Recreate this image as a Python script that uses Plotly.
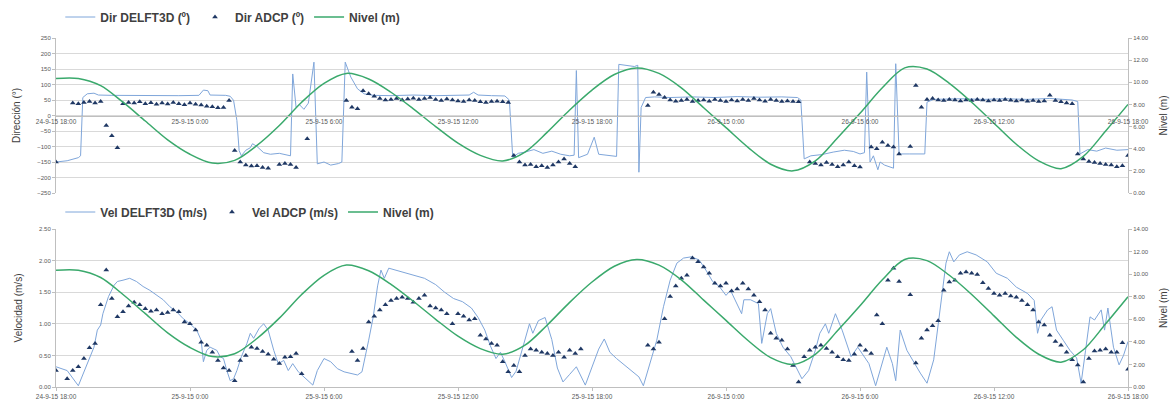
import numpy as np
import pandas as pd
import plotly.graph_objects as go

START = pd.Timestamp("2015-09-24 18:00")

# x-axis tick positions (hours from start) and their labels
tick_hours = [0, 6, 12, 18, 24, 30, 36, 42, 48]
tick_labels = ["24-9-15 18:00", "25-9-15 0:00", "25-9-15 6:00", "25-9-15 12:00",
               "25-9-15 18:00", "26-9-15 0:00", "26-9-15 6:00", "26-9-15 12:00",
               "26-9-15 18:00"]

# Tide level (m), hourly
nivel_h = list(range(49))
nivel = [10.35, 10.35, 9.7, 8.2, 6.5, 4.8, 3.5, 2.7, 2.95, 4.3, 6.1, 8.2, 9.9, 10.8,
         10.3, 9.1, 7.6, 6.0, 4.5, 3.4, 2.9, 3.7, 5.5, 7.5, 9.3, 10.7, 11.3, 10.8,
         9.5, 7.7, 5.9, 4.1, 2.6, 2.0, 2.9, 5.0, 7.2, 9.5, 11.3, 11.2, 9.9, 8.2,
         6.3, 4.4, 2.9, 2.2, 3.3, 5.6, 8.0]

# Direction DELFT3D (deg): (hour, value)
dir_delft_pts = [
    (0.0, -150), (0.5, -146), (1.0, -136), (1.1, -130), (1.2, 58), (1.4, 70), (1.7, 72),
    (1.9, 66), (2.5, 65), (3.5, 64), (4.5, 65), (5.5, 64), (6.4, 65), (6.6, 82), (6.8, 80),
    (6.9, 66), (7.6, 65), (7.8, 62), (7.95, 49), (8.1, -16), (8.2, -113), (8.3, -130),
    (8.5, -112), (8.7, -104), (8.8, -91), (9.0, -100), (9.3, -120), (9.6, -125), (10.0, -122),
    (10.3, -128), (10.5, -130), (10.6, 134), (10.75, 26), (10.9, 35), (11.1, 20), (11.3, 40),
    (11.55, 172), (11.7, -156), (12.0, -150), (12.3, -160), (12.65, -155), (12.8, -150),
    (12.95, 172), (13.2, 124), (13.5, 86), (13.8, 70), (14.2, 65), (15.0, 64), (16.0, 66),
    (17.0, 64), (18.0, 65), (18.5, 66), (18.7, 75), (18.9, 66), (19.5, 64), (20.1, 63),
    (20.3, 50), (20.45, -134), (20.7, -122), (21.0, -118), (21.4, -110), (21.8, -122),
    (22.2, -115), (22.6, -125), (23.0, -130), (23.2, -128), (23.3, 145), (23.4, -136),
    (23.8, -125), (24.1, -70), (24.3, -125), (24.8, -130), (25.1, -132), (25.2, 165),
    (25.6, 160), (25.9, 158), (26.05, 162), (26.1, -183), (26.2, 26), (26.4, 58), (26.8, 60),
    (27.5, 58), (28.5, 60), (29.5, 58), (30.5, 61), (31.5, 59), (32.5, 60), (33.2, 58),
    (33.35, 50), (33.5, -140), (33.8, -130), (34.3, -126), (34.8, -118), (35.3, -112),
    (35.7, -116), (36.0, -124), (36.2, -120), (36.3, 140), (36.45, -150), (36.6, -130),
    (36.8, -175), (36.9, -150), (37.1, -160), (37.5, -170), (37.6, 167), (37.75, -124),
    (38.2, -124), (38.9, -124), (39.0, 43), (39.3, 52), (40.5, 54), (41.5, 52), (42.5, 54),
    (43.5, 52), (44.5, 55), (45.5, 50), (45.75, 45), (45.85, -124), (46.2, -110),
    (46.6, -115), (47.0, -105), (47.5, -112), (48.0, -110)]

# Direction ADCP (deg), every 15 min (None = no data)
dir_adcp = [
    -150, None, None, 40,   38, 42, 45, 40,   45, -32, -65, -104,   38, 42, 40, 44,
    38, 41, 36, 40,   37, 42, 38, 35,   40, 36, 34, 30,   28, 25, 26, 48,
    -113, -150, -160, -163,   -162, -168, -170, None,   -158, -155, -158, -168,
    None, -75, None, None,   None, None, None, None,   48, 27, 22, 80,
    70, 62, 55, 50,   52, 55, 50, 53,   56, 52, 55, 58,   52, 48, 53, 50,
    47, 45, 50, 48,   44, 42, 45, 46,   44, 42, -129, -150,   -160, -158, -165, -162,
    -168, -160, -150, -140,   -155, -165, None, None,   None, None, None, None,
    None, None, None, None,   None, None, 32, 75,   68, 58, 50, 46,
    48, 52, 45, 48,   50, 46, 52, 48,   45, 50, 47, 52,   48, 55, 50, 46,
    52, 48, 45, 47,   45, 44, None, -150,   -155, -160, -152, -158,   -165, -160, -150, -162,
    -166, None, -102, -107,   -86, -97, -102, -124,   None, -100, 97, 27,   52, 55, 50, 48,
    52, 50, 47, 50,   48, 52, 50, 47,   50, 48, 52, 49,   47, 50, 46, 48,
    45, 47, 65, 48,   44, 40, 38, -124,   -140, -148, -152, -155,   -158, -160, -165, -162,
    -129]

# Velocity DELFT3D (m/s): (hour, value)
vel_delft_pts = [
    (0.0, 0.32), (0.5, 0.26), (1.0, 0.02), (1.4, 0.37), (1.7, 0.63), (1.85, 0.9), (2.0, 0.98),
    (2.1, 1.16), (2.35, 1.43), (2.6, 1.61), (2.75, 1.67), (3.0, 1.69), (3.3, 1.72), (3.6, 1.67),
    (3.9, 1.59), (4.2, 1.53), (4.5, 1.45), (4.8, 1.38), (5.1, 1.27), (5.4, 1.19), (5.7, 1.08),
    (6.0, 1.0), (6.3, 0.9), (6.5, 0.74), (6.6, 0.4), (6.75, 0.58), (6.9, 0.63), (7.2, 0.58),
    (7.35, 0.48), (7.5, 0.45), (7.65, 0.26), (7.8, 0.1), (7.95, 0.13), (8.1, 0.26), (8.3, 0.48),
    (8.55, 0.69), (8.7, 0.85), (8.85, 0.77), (9.1, 0.93), (9.3, 1.0), (9.5, 0.9), (9.75, 0.58),
    (9.95, 0.37), (10.2, 0.42), (10.4, 0.26), (10.6, 0.37), (10.85, 0.24), (11.1, 0.16),
    (11.3, 0.1), (11.5, 0.03), (11.7, 0.26), (12.0, 0.45), (12.3, 0.4), (12.6, 0.29),
    (12.9, 0.24), (13.2, 0.21), (13.5, 0.19), (13.7, 0.24), (13.85, 0.48), (14.0, 0.74),
    (14.2, 1.1), (14.4, 1.6), (14.55, 1.85), (14.7, 1.72), (14.9, 1.88), (15.2, 1.85),
    (15.6, 1.82), (16.0, 1.78), (16.5, 1.72), (17.0, 1.62), (17.4, 1.5), (17.8, 1.4),
    (18.2, 1.35), (18.6, 1.25), (18.9, 1.1), (19.2, 0.9), (19.45, 0.65), (19.7, 0.45),
    (19.9, 0.55), (20.1, 0.4), (20.4, 0.15), (20.6, 0.25), (20.9, 0.62), (21.2, 1.0),
    (21.35, 0.85), (21.6, 1.05), (21.9, 1.1), (22.2, 0.75), (22.45, 0.3), (22.7, 0.08),
    (23.0, 0.2), (23.3, 0.32), (23.7, 0.03), (24.0, 0.3), (24.3, 0.6), (24.55, 0.76),
    (24.8, 0.55), (25.1, 0.45), (25.6, 0.3), (26.1, 0.16), (26.3, 0.02), (26.55, 0.32),
    (26.9, 0.74), (27.2, 1.27), (27.5, 1.69), (27.8, 1.96), (28.1, 2.04), (28.45, 2.06),
    (28.8, 2.01), (29.1, 1.85), (29.4, 1.67), (29.7, 1.59), (30.0, 1.45), (30.2, 1.53),
    (30.5, 1.32), (30.7, 1.16), (30.8, 1.38), (31.1, 1.38), (31.45, 1.32), (31.6, 0.69),
    (31.85, 1.16), (32.0, 1.24), (32.25, 0.85), (32.55, 0.63), (32.9, 0.48), (33.2, 0.26),
    (33.4, 0.13), (33.7, 0.26), (34.0, 0.58), (34.2, 0.85), (34.45, 1.0), (34.6, 0.85),
    (34.9, 1.16), (35.2, 0.9), (35.6, 0.48), (35.9, 0.63), (36.2, 0.48), (36.4, 0.37),
    (36.7, 0.02), (37.0, 0.37), (37.2, 0.63), (37.45, 0.37), (37.6, 0.1), (37.8, 0.9),
    (38.1, 0.58), (38.7, 0.22), (39.0, 0.06), (39.3, 0.43), (39.6, 1.22), (39.85, 1.96),
    (40.0, 2.14), (40.2, 1.98), (40.45, 2.09), (40.8, 2.14), (41.2, 2.09), (41.7, 1.98),
    (42.1, 1.8), (42.6, 1.72), (43.0, 1.58), (43.5, 1.48), (43.8, 1.37), (43.95, 0.85),
    (44.1, 1.06), (44.4, 1.22), (44.6, 1.27), (44.8, 0.9), (45.1, 0.74), (45.4, 0.58),
    (45.7, 0.46), (45.9, 0.06), (46.1, 0.58), (46.3, 1.11), (46.5, 1.06), (46.8, 1.22),
    (46.95, 0.9), (47.1, 1.25), (47.35, 0.63), (47.6, 0.35), (47.8, 0.5), (48.0, 0.72)]

# Velocity ADCP (m/s), every 15 min (None = no data)
vel_adcp = [
    0.26, None, 0.13, 0.26,   0.32, 0.45, 0.62, 0.69,   1.3, 1.85, 1.4, 1.11,
    1.19, 1.28, 1.34, 1.3,   1.24, 1.2, 1.22, 1.16,   1.18, 1.22, 1.19, 1.03,
    1.0, 0.9, 0.71, 0.66,   0.55, 0.42, 0.3, 0.26,   0.1, 0.42, 0.5, 0.63,
    0.61, 0.56, 0.52, 0.44,   0.37, 0.47, 0.48, 0.53,   0.21, None, None, None,
    None, None, None, None,   None, 0.56, 0.42, 0.61,   1.03, 1.12, 1.22, 1.3,
    1.37, 1.4, 1.42, 1.4,   1.34, 1.4, 1.45, 1.28,   1.25, 1.22, 1.16, 1.0,
    1.16, 1.12, 1.06, 1.08,   0.82, 0.76, 0.69, 0.66,   0.4, 0.24, 0.34, 0.24,
    0.5, 0.6, 0.58, 0.55,   0.53, 0.5, 0.55, 0.47,   0.58, 0.53, 0.6, None,
    None, None, None, None,   None, None, None, None,   None, None, 0.66, 0.6,
    0.71, 1.08, 1.43, 1.6,   1.72, 1.77, 2.04, 1.98,   1.9, 1.8, 1.64, 1.6,
    1.64, 1.52, 1.55, 1.64,   1.55, 1.45, 1.35, 1.22,   0.85, 0.77, 0.74, 0.6,
    0.34, 0.08, 0.48, 0.58,   0.63, 0.66, 0.61, 0.55,   0.48, 0.43, 0.42, 0.52,
    0.66, 0.58, 0.53, 1.14,   1.0, 1.69, 1.88, 1.67,   None, 1.46, 0.38, 0.77,
    0.9, 0.97, 1.05, 1.53,   1.66, 1.69, 1.8, 1.82,   1.8, 1.78, 1.65, 1.56,
    1.48, 1.45, 1.48, 1.44,   1.42, 1.37, 1.3, 1.22,   1.03, 0.98, 0.82, 0.72,
    0.66, 0.55, 0.43, 0.35,   0.08, 0.45, 0.57, 0.58,   0.6, 0.55, 0.55, 0.7,
    0.28]


def to_time(hours):
    return START + pd.to_timedelta(np.asarray(hours, dtype=float), unit="h")


dir_delft_h, dir_delft = zip(*dir_delft_pts)
vel_delft_h, vel_delft = zip(*vel_delft_pts)
adcp_h = np.arange(len(dir_adcp)) * 0.25
vadcp_h = np.arange(len(vel_adcp)) * 0.25

BLUE = "#7fa6da"
NAVY = "#1f3864"
GREEN = "#3aa96c"
GRID = "#d9d9d9"
AXC = "#bfbfbf"
TXT = "#595959"
FONT = "Liberation Sans"

fig = go.Figure()
# top panel
fig.add_trace(go.Scatter(x=to_time(dir_delft_h), y=dir_delft, mode="lines",
                         line=dict(color=BLUE, width=1), name="Dir DELFT3D (º)",
                         xaxis="x", yaxis="y", legend="legend"))
fig.add_trace(go.Scatter(x=to_time(adcp_h), y=dir_adcp, mode="markers",
                         marker=dict(symbol="triangle-up", size=5, color=NAVY),
                         name="Dir ADCP (º)", xaxis="x", yaxis="y", legend="legend"))
fig.add_trace(go.Scatter(x=to_time(nivel_h), y=nivel, mode="lines",
                         line=dict(color=GREEN, width=1.5, shape="spline", smoothing=0.9),
                         name="Nivel (m)", xaxis="x", yaxis="y3", legend="legend"))
# bottom panel
fig.add_trace(go.Scatter(x=to_time(vel_delft_h), y=vel_delft, mode="lines",
                         line=dict(color=BLUE, width=1), name="Vel DELFT3D (m/s)",
                         xaxis="x2", yaxis="y2", legend="legend2"))
fig.add_trace(go.Scatter(x=to_time(vadcp_h), y=vel_adcp, mode="markers",
                         marker=dict(symbol="triangle-up", size=5, color=NAVY),
                         name="Vel ADCP (m/s)", xaxis="x2", yaxis="y2", legend="legend2"))
fig.add_trace(go.Scatter(x=to_time(nivel_h), y=nivel, mode="lines",
                         line=dict(color=GREEN, width=1.5, shape="spline", smoothing=0.9),
                         name="Nivel (m)", xaxis="x2", yaxis="y4", legend="legend2"))

H = 405.0
top_dom = [1 - 193 / H, 1 - 38 / H]
bot_dom = [1 - 387 / H, 1 - 229 / H]
zero_pos = top_dom[0] + (top_dom[1] - top_dom[0]) * 0.5

xrange = [to_time([0])[0], to_time([48])[0]]
tickfont = dict(family=FONT, size=6, color=TXT)
titlefont = dict(family=FONT, size=10, color="#404040")

common_x = dict(range=xrange, tickvals=to_time(tick_hours), ticktext=tick_labels,
                showgrid=False, zeroline=False, showline=True, linecolor=AXC,
                tickfont=dict(family=FONT, size=6.5, color=TXT), automargin=False)

legend_font = dict(family=FONT, size=12, color="#404040", weight="bold")

fig.update_layout(
    width=1176, height=405,
    margin=dict(l=56, r=48, t=0, b=0),
    paper_bgcolor="white", plot_bgcolor="white",
    showlegend=True,
    xaxis=dict(domain=[0, 1], anchor="free", position=zero_pos, ticks="", **common_x),
    xaxis2=dict(domain=[0, 1], anchor="y2", ticks="outside", ticklen=3, tickcolor=AXC,
                **common_x),
    yaxis=dict(domain=top_dom, anchor="x", range=[-250, 250], dtick=50, tick0=0,
               gridcolor=GRID, zeroline=False, showline=True, linecolor=AXC,
               ticks="outside", ticklen=3, tickcolor=AXC, tickfont=tickfont,
               title=dict(text="Dirección (°)", font=titlefont, standoff=14),
               automargin=False),
    yaxis3=dict(overlaying="y", side="right", anchor="x", range=[0, 14], dtick=2,
                tickformat=".2f", showgrid=False, zeroline=False, showline=True,
                linecolor=AXC, ticks="outside", ticklen=3, tickcolor=AXC,
                tickfont=tickfont,
                title=dict(text="Nivel (m)", font=titlefont, standoff=12),
                automargin=False),
    yaxis2=dict(domain=bot_dom, anchor="x2", range=[0, 2.5], dtick=0.5,
                tickformat=".2f", gridcolor=GRID, zeroline=False, showline=True,
                linecolor=AXC, ticks="outside", ticklen=3, tickcolor=AXC,
                tickfont=tickfont,
                title=dict(text="Velocidad (m/s)", font=titlefont, standoff=14),
                automargin=False),
    yaxis4=dict(overlaying="y2", side="right", anchor="x2", range=[0, 14], dtick=2,
                tickformat=".2f", showgrid=False, zeroline=False, showline=True,
                linecolor=AXC, ticks="outside", ticklen=3, tickcolor=AXC,
                tickfont=tickfont,
                title=dict(text="Nivel (m)", font=titlefont, standoff=12),
                automargin=False),
    legend=dict(orientation="h", x=0.004, xanchor="left", y=1 - 17 / H, yanchor="middle",
                font=legend_font, bgcolor="rgba(0,0,0,0)", itemwidth=30),
    legend2=dict(orientation="h", x=0.004, xanchor="left", y=1 - 212 / H, yanchor="middle",
                 font=legend_font, bgcolor="rgba(0,0,0,0)", itemwidth=30),
)

fig.write_html("out.html",
               config={"displayModeBar": False},
               post_script="document.body.style.margin='0';"
                           "document.body.style.overflow='hidden';")
